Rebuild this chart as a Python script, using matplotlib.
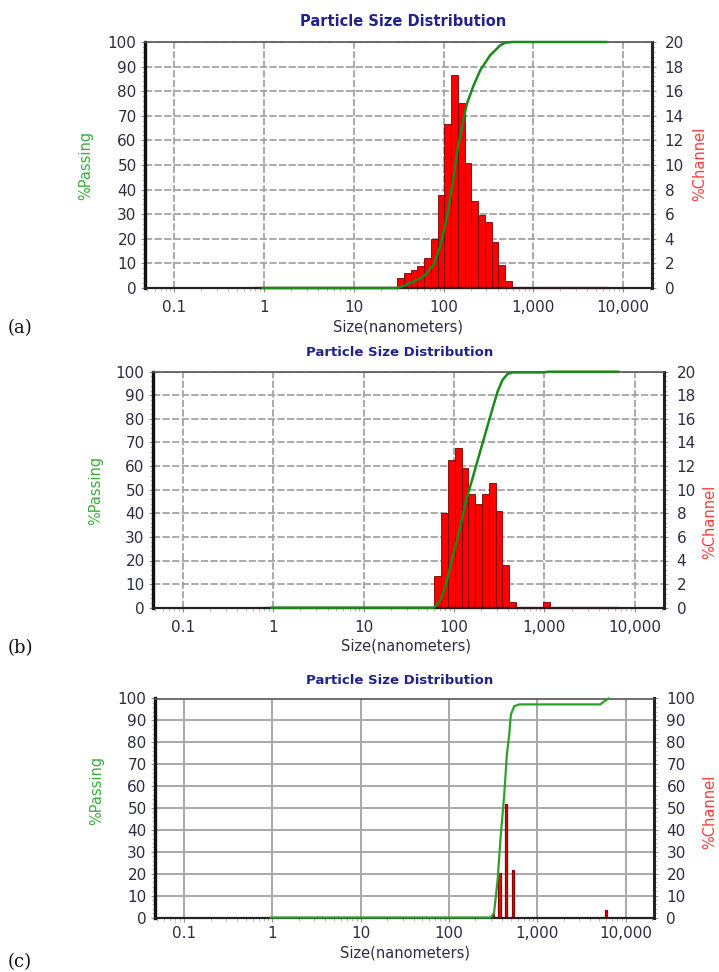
import numpy as np
import matplotlib.pyplot as plt
from matplotlib.ticker import FixedLocator, FixedFormatter, LogLocator, NullFormatter, MultipleLocator

plt.rcParams['font.family'] = ['DejaVu Sans']

W, H = 719, 972

x_ticks = [0.1, 1, 10, 100, 1000, 10000]
x_ticklabels = ['0.1', '1', '10', '100', '1,000', '10,000']
baseline_nm = [0.8, 6540]

# (a) channel edges (nm), %channel, cumulative curve
a_edges = [30.4, 36.1, 43.0, 51.1, 60.8, 72.3, 85.9, 102.2, 121.5, 144.5,
           171.9, 204.4, 243.1, 289.1, 343.8, 408.8, 486.2, 578.1]
a_channel = [0.8, 1.2, 1.5, 1.8, 2.4, 4.0, 7.6, 13.3, 17.3, 15.0,
             10.2, 7.1, 5.9, 5.35, 3.75, 1.9, 0.6]
a_size = [0.96, 30.8, 42.7, 60, 77.4, 91.9, 109, 124, 141, 160, 182,
          216, 256, 330, 427, 485, 575, 6540]
a_passing = [0, 0, 2, 4.7, 9.5, 17, 29, 41, 55, 65.5, 75,
             82.4, 88.5, 94.6, 98.6, 99.7, 100, 100]

# (b)
b_edges = [60.8, 72.3, 85.9, 102.2, 121.5, 144.5, 171.9, 204.4, 243.1,
           289.1, 343.8, 408.8, 486.2, 578.1, 687.5, 817.6, 972.3, 1156]
b_channel = [2.7, 8.0, 12.5, 13.5, 11.8, 9.6, 8.8, 9.6, 10.6,
             8.2, 3.6, 0.5, 0, 0, 0, 0, 0.5]
b_size = [0.96, 60, 71, 80.9, 95.8, 113.6, 134.8, 160, 189.6, 225,
          267, 303, 344, 391, 444, 957, 1137, 6540]
b_passing = [0, 0, 3.1, 9.5, 20.8, 32.1, 44.8, 54.7, 64.6, 74.5,
             84.4, 91.5, 96.5, 99, 99.7, 99.7, 100, 100]

# (c)
c_edges = [289.1, 343.8, 408.8, 486.2, 578.1, 687.5, 817.6, 972.3, 1156,
           1375, 1635, 1945, 2312, 2750, 3270, 3889, 4625, 5500, 6540]
c_channel = [1.5, 20.5, 52.0, 21.6, 0, 0, 0, 0, 0,
             0, 0, 0, 0, 0, 0, 0, 0, 3.4]
c_size = [0.96, 297, 324, 355, 387, 423, 453, 482, 503, 550, 628,
          5180, 5800, 6440]
c_passing = [0, 0, 2, 16.5, 37.8, 56, 74.4, 83.5, 92.7, 96.5, 97.3,
             97.3, 98.8, 100]

fig = plt.figure(figsize=(W / 100, H / 100), dpi=100)
fig.patch.set_facecolor('white')

tick_col = '#2d2d40'


def px(x, y):
    return x / W, 1 - y / H


def panel(rect, edges, channel, size, passing, ch_max, ch_step, letter,
          title_xy, xlabel_xy, pass_xy, chan_xy, style, xpad=6, title_fs=9.5):
    l, t, r, b = rect
    ax = fig.add_axes([l / W, 1 - b / H, (r - l) / W, (b - t) / H])
    ax.set_xscale('log')
    ax.set_xlim(0.047, 21000)
    ax.set_ylim(0, ch_max)

    # grid under bars
    ax.set_axisbelow(True)
    if style == 'solid':
        ax.grid(True, which='major', color='#a8a8a8', lw=1.4, ls='-')
    else:
        ax.grid(True, which='major', color='#a4a4a4', lw=1.3, ls=(0, (4, 1.3)))

    e = np.array(edges)
    h = np.array(channel)
    lo, hi = e[:-1], e[1:]
    keep = h > 0
    if style == 'solid':
        ctr = np.sqrt(lo * hi)
        f = (hi / lo) ** 0.18
        ax.bar(ctr[keep] / f[keep], h[keep], width=(ctr * f - ctr / f)[keep],
               align='edge', color='#ee1111', edgecolor='#8a0000', lw=0.9, zorder=2)
        ax.plot(baseline_nm, [0, 0], color='#dd1111', lw=1.4, ls=(0, (2.5, 2)),
                clip_on=False, zorder=3)
    else:
        ax.bar(lo[keep], h[keep], width=(hi - lo)[keep], align='edge',
               color='#ff0000', edgecolor='#7a0000', lw=0.6, zorder=2)
        ax.plot(baseline_nm, [0, 0], color='#cc1111', lw=1.6,
                clip_on=False, zorder=3)

    for s in ax.spines.values():
        s.set_visible(False)

    ax.yaxis.set_major_locator(MultipleLocator(ch_step))
    ax.yaxis.set_minor_locator(MultipleLocator(ch_step / 5))
    ax.xaxis.set_major_locator(FixedLocator(x_ticks))
    ax.xaxis.set_major_formatter(FixedFormatter(x_ticklabels))
    ax.xaxis.set_minor_locator(LogLocator(base=10, subs=np.arange(2, 10)))
    ax.xaxis.set_minor_formatter(NullFormatter())

    ax2 = ax.twinx()
    # %Channel on the right (base axes), %Passing on the left (twin on top)
    ax.yaxis.tick_right()
    ax2.yaxis.tick_left()

    ax.tick_params(axis='both', which='major', length=3, color='#909090',
                   labelsize=11, labelcolor=tick_col)
    ax.tick_params(axis='y', which='major', pad=6)
    ax.tick_params(axis='x', which='major', pad=xpad)
    ax.tick_params(axis='both', which='minor', length=2, color='#b0b0b0')

    ax2.set_ylim(0, 100)
    ax2.yaxis.set_major_locator(MultipleLocator(10))
    ax2.yaxis.set_minor_locator(MultipleLocator(2))
    ax2.tick_params(axis='y', which='major', length=3, color='#909090',
                    labelsize=11, labelcolor=tick_col, pad=3)
    ax2.tick_params(axis='y', which='minor', length=2, color='#b0b0b0')
    if style == 'solid':
        ax2.plot(size, passing, color='#2ea02e', lw=1.6, clip_on=False, zorder=3)
    else:
        ax2.plot(size, passing, color='#1a8a1a', lw=1.8, clip_on=False, zorder=3)

    ax2.spines['left'].set_linewidth(2.4)
    ax2.spines['right'].set_linewidth(2.2)
    ax2.spines['bottom'].set_linewidth(1.6)
    ax2.spines['top'].set_linewidth(1.2)
    ax2.spines['left'].set_color('#111111')
    ax2.spines['right'].set_color('#222222')
    ax2.spines['bottom'].set_color('#222222')
    ax2.spines['top'].set_color('#555555')

    fig.text(*px(*title_xy), 'Particle Size Distribution', ha='center', va='center',
             fontsize=title_fs, fontweight='bold', color='#22228a')
    fig.text(*px(*xlabel_xy), 'Size(nanometers)', ha='center', va='center',
             fontsize=10.5, color=tick_col)
    fig.text(*px(*pass_xy), '%Passing', ha='center', va='center', rotation=90,
             fontsize=10.5, color='#3cac3c')
    fig.text(*px(*chan_xy), '%Channel', ha='center', va='center', rotation=90,
             fontsize=10.5, color='#ff3b3b')
    fig.text(*px(letter[0], letter[1]), letter[2], ha='center', va='center',
             fontsize=13, family='DejaVu Serif', color='#111111')
    return ax, ax2


panel((145, 42, 652, 288), a_edges, a_channel, a_size, a_passing, 20, 2,
      (20, 328, '(a)'), (403, 21), (398, 327), (86, 165), (700, 164), 'dash',
      title_fs=10.5)
panel((153, 371.7, 664, 607.7), b_edges, b_channel, b_size, b_passing, 20, 2,
      (20, 648, '(b)'), (400, 352), (406, 646), (96, 490), (710, 522), 'dash')
panel((155, 698.5, 654, 917.5), c_edges, c_channel, c_size, c_passing, 100, 10,
      (20, 962, '(c)'), (400, 681), (405, 953), (97, 790), (710, 812), 'solid',
      xpad=3)

fig.savefig('out.png', dpi=100)
